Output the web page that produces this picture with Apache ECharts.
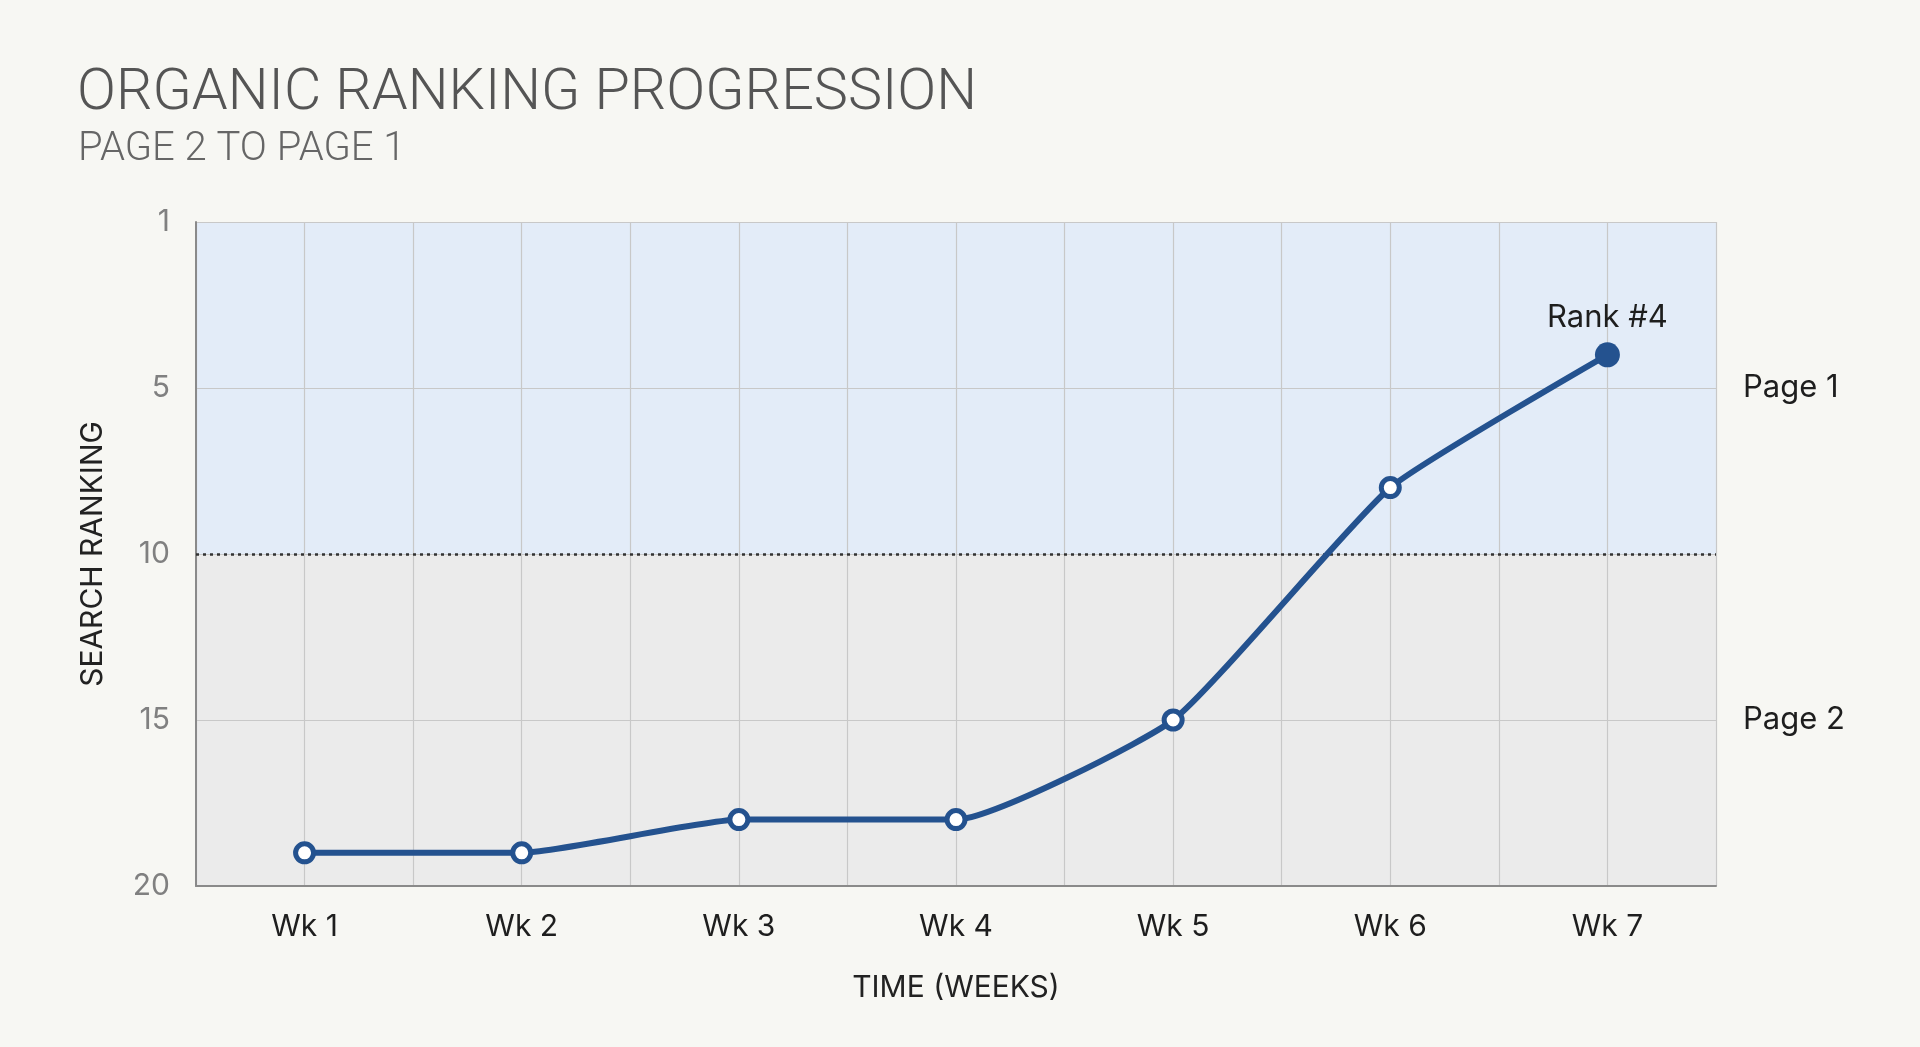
<!DOCTYPE html>
<html>
<head>
<meta charset="utf-8">
<script src="https://cdn.jsdelivr.net/npm/echarts@6/dist/echarts.min.js"></script>
<style>
html,body{margin:0;padding:0;background:#f7f7f3;}
#c{width:1920px;height:1047px;}
</style>
</head>
<body>
<div id="c"></div>
<script>
const weeks = ['Wk 1','Wk 2','Wk 3','Wk 4','Wk 5','Wk 6','Wk 7'];
const ranks = [19, 19, 18, 18, 15, 8, 4];
const yTicks = [0, 5, 10, 15, 20];
const yTickLabels = ['1', '5', '10', '15', '20'];
const pageBands = [
  {name: 'Page 1', from: 0, to: 10},
  {name: 'Page 2', from: 10, to: 20}
];
const pageThreshold = 10;
const highlightLabel = 'Rank #4';

const FONT = 'Inter, Roboto, sans-serif';
const lineColor = '#24528f';
const bandColors = ['#e3ecf8', '#ebebeb'];

const seriesData = ranks.map((v, i) => {
  if (i === ranks.length - 1) {
    return {
      value: v,
      symbol: 'circle',
      symbolSize: 25,
      itemStyle: {color: lineColor, borderColor: lineColor, borderWidth: 0},
      label: {
        show: true, position: 'top', distance: 9, formatter: highlightLabel,
        fontFamily: FONT, fontSize: 31, color: '#1e1e1e'
      }
    };
  }
  return v;
});

const chart = echarts.init(document.getElementById('c'));
chart.setOption({
  backgroundColor: '#f7f7f3',
  animation: false,
  title: [
    {
      text: 'ORGANIC RANKING PROGRESSION',
      left: 72, top: 61,
      textStyle: {fontFamily: 'Roboto, sans-serif', fontWeight: 300, fontSize: 57.5, color: '#555555'}
    },
    {
      text: 'PAGE 2 TO PAGE 1',
      left: 73, top: 125,
      textStyle: {fontFamily: 'Roboto, sans-serif', fontWeight: 300, fontSize: 40, color: '#666666'}
    }
  ],
  grid: {left: 196, right: 204, top: 222, bottom: 161},
  xAxis: [
    {
      type: 'category',
      data: weeks,
      position: 'bottom',
      boundaryGap: true,
      axisLine: {show: true, onZero: false, lineStyle: {color: '#8a8a8a', width: 2}},
      axisTick: {show: false},
      axisLabel: {fontFamily: FONT, fontSize: 30, color: '#1e1e1e', margin: 26},
      splitLine: {show: false},
      name: 'TIME (WEEKS)',
      nameLocation: 'middle',
      nameGap: 87,
      nameTextStyle: {fontFamily: FONT, fontSize: 30, color: '#222222'},
      z: 5
    },
    {
      type: 'value',
      min: 0, max: weeks.length * 2, interval: 1,
      position: 'bottom',
      axisLine: {show: false, onZero: false},
      axisTick: {show: false},
      axisLabel: {show: false},
      splitLine: {show: true, lineStyle: {color: '#c8c8c8', width: 1.2}}
    }
  ],
  yAxis: {
    type: 'value',
    inverse: true,
    min: 0, max: 20, interval: 5,
    axisLine: {show: true, onZero: false, lineStyle: {color: '#8a8a8a', width: 2}},
    axisTick: {show: false},
    axisLabel: {
      fontFamily: FONT, fontSize: 30, color: '#808080', margin: 26,
      formatter: v => { const i = yTicks.indexOf(v); return i >= 0 ? yTickLabels[i] : ''; }
    },
    splitLine: {show: true, lineStyle: {color: '#c8c8c8', width: 1.2}},
    name: 'SEARCH RANKING',
    nameLocation: 'middle',
    nameGap: 88,
    nameRotate: 90,
    nameTextStyle: {fontFamily: FONT, fontSize: 30, color: '#222222'}
  },
  series: [
    {
      type: 'line',
      xAxisIndex: 0,
      data: seriesData,
      smooth: 0.15,
      symbol: 'circle',
      symbolSize: 18,
      showAllSymbol: true,
      lineStyle: {color: lineColor, width: 6},
      itemStyle: {color: '#ffffff', borderColor: lineColor, borderWidth: 5},
      z: 10,
      markArea: {
        silent: true,
        z: -1,
        label: {
          position: 'right', distance: 27,
          fontFamily: FONT, fontSize: 31, color: '#1e1e1e'
        },
        data: pageBands.map((b, i) => [
          {name: b.name, yAxis: b.from, itemStyle: {color: bandColors[i]}},
          {yAxis: b.to}
        ])
      },
      markLine: {
        silent: true,
        symbol: 'none',
        label: {show: false},
        lineStyle: {color: '#333333', width: 2.5, type: [3, 4]},
        data: [{yAxis: pageThreshold}]
      }
    }
  ]
});
</script>
</body>
</html>
